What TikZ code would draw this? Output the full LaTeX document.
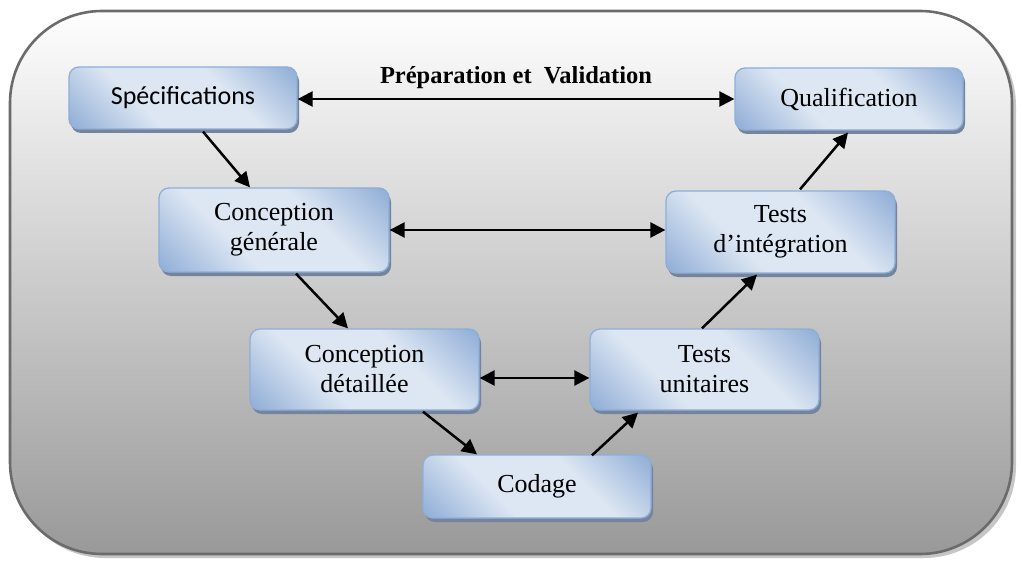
\documentclass[tikz,border=0pt]{standalone}
\usepackage{fontspec}
\setmainfont{Liberation Serif}
\newfontfamily\calfont{Carlito}
\usetikzlibrary{arrows.meta,shadows}
\definecolor{bdark}{HTML}{93B0D8}
\definecolor{blight}{HTML}{DDE7F3}
\definecolor{bedge}{HTML}{8EAED8}
\definecolor{bshadow}{HTML}{74849C}
\definecolor{framec}{HTML}{6B6B6B}
\definecolor{frameshadow}{HTML}{C6C6C6}
\definecolor{bgtop}{HTML}{FEFEFE}
\definecolor{bgbottom}{HTML}{999999}
% diagonal blue gradient of the stage boxes: dark corners, light band
\pgfdeclarehorizontalshading{boxshade}{100bp}{color(0bp)=(bdark); color(16bp)=(bdark); color(38bp)=(blight); color(62bp)=(blight); color(84bp)=(bdark); color(100bp)=(bdark)}
\tikzset{
  stage/.style={rectangle, rounded corners=10pt, draw=bedge, line width=1.3pt,
    shading=boxshade, shading angle=45,
    drop shadow={shadow xshift=2pt, shadow yshift=-4pt, fill=bshadow, opacity=1},
    font=\fontsize{26}{30}\selectfont, align=center, inner sep=0pt},
  link/.style={line width=2.5pt, -{Triangle[length=15pt,width=15pt]}},
  dlink/.style={line width=2.5pt, {Triangle[length=15pt,width=15pt]}-{Triangle[length=15pt,width=15pt]}}
}
\begin{document}
\begin{tikzpicture}[x=1pt,y=-1pt]
\useasboundingbox (0,0) rectangle (1022,564);
% outer frame with its soft shadow
\fill[frameshadow, rounded corners=92pt] (13,14) rectangle (1016,558);
\draw[framec, line width=2.6pt, rounded corners=92pt, top color=bgtop, bottom color=bgbottom]
  (10,11) rectangle (1012,554);

% stages of the V cycle
\node[stage, minimum width=228pt, minimum height=62pt, font=\calfont\fontsize{26}{30}\selectfont]
  (spec) at (183,98) {Spécifications};
\node[stage, minimum width=228pt, minimum height=62pt] (qual) at (849,99) {Qualification};
\node[stage, minimum width=230pt, minimum height=84pt] (cg) at (274,230) {Conception\\générale};
\node[stage, minimum width=229pt, minimum height=82pt] (ti) at (780.5,232) {Tests\\d’intégration};
\node[stage, minimum width=229pt, minimum height=81pt] (cd) at (364.5,369.5) {Conception\\détaillée};
\node[stage, minimum width=229pt, minimum height=81pt] (tu) at (704.5,369.5) {Tests\\unitaires};
\node[stage, minimum width=228pt, minimum height=63pt] (cod) at (537,486.5) {Codage};

% title over the top link
\node[anchor=base, font=\bfseries\fontsize{24.5}{28}\selectfont] (title) at (516,84) {Préparation et~ Validation};

% horizontal links
\draw[dlink] ([yshift=-1pt]spec.east) -- ([yshift=-1pt]spec.east -| qual.west);
\draw[dlink] (cg.east) -- (cg.east -| ti.west);
\draw[dlink] ([yshift=-8.5pt]cd.east) -- ([yshift=-8.5pt]cd.east -| tu.west);

% descending branch
\draw[link] ([xshift=20pt,yshift=-2pt]spec.south) -- ([xshift=-24pt]cg.north);
\draw[link] ([xshift=22pt,yshift=-1pt]cg.south) -- ([xshift=-16.5pt]cd.north);
\draw[link] ([xshift=58.5pt,yshift=-1pt]cd.south) -- ([xshift=-60pt]cod.north);
% ascending branch
\draw[link] ([xshift=55pt,yshift=-1pt]cod.north) -- ([xshift=-66.5pt,yshift=-2pt]tu.south);
\draw[link] ([xshift=-2.5pt]tu.north) -- ([xshift=-23.5pt,yshift=-1pt]ti.south);
\draw[link] ([xshift=19.5pt,yshift=1pt]ti.north) -- ([xshift=-1pt,yshift=-2pt]qual.south);
\end{tikzpicture}
\end{document}
